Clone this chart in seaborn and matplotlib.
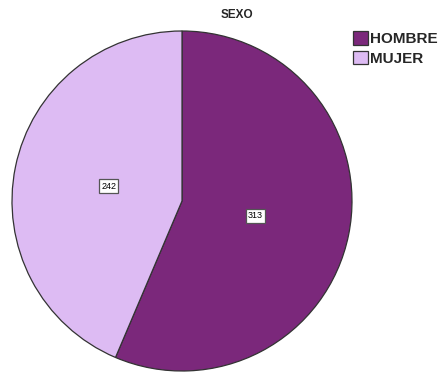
import matplotlib
matplotlib.use("Agg")
import matplotlib.pyplot as plt
import seaborn as sns

# Data: respondents by sex
categories = ["HOMBRE", "MUJER"]
counts = [313, 242]
colors = ["#7B287B", "#DDBBF3"]
title = "SEXO"

sns.set_theme(style="white")
plt.rcParams["font.family"] = ["Liberation Sans", "DejaVu Sans"]

W, H = 440, 376
fig = plt.figure(figsize=(W / 100, H / 100), dpi=100)
ax = fig.add_axes([0, 0, 1, 1])

total = sum(counts)
wedges, texts, autotexts = ax.pie(
    counts,
    colors=colors,
    startangle=90,
    counterclock=False,
    center=(182, H - 201),
    radius=170,
    autopct=lambda p: f"{round(p * total / 100)}",
    pctdistance=0.44,
    wedgeprops=dict(edgecolor="#333333", linewidth=0.9),
    textprops=dict(fontsize=6.5, color="black"),
)
for t in autotexts:
    t.set_bbox(dict(boxstyle="square,pad=0.25", facecolor="white",
                    edgecolor="#555555", linewidth=0.9))

ax.set_xlim(0, W)
ax.set_ylim(0, H)
ax.set_aspect("equal")
ax.axis("off")

fig.text(237 / W, 1 - 18.5 / H, title, ha="center", va="baseline",
         fontsize=8.5, fontweight="bold")

fig.legend(
    wedges, categories,
    loc="upper left",
    bbox_to_anchor=(353 / W, 1 - 31 / H),
    frameon=False,
    prop=dict(size=11, weight="bold"),
    handlelength=1.0,
    handleheight=1.0,
    handletextpad=0.1,
    labelspacing=0.3,
    borderpad=0.0,
    borderaxespad=0.0,
)

fig.savefig("out.png", dpi=100)
